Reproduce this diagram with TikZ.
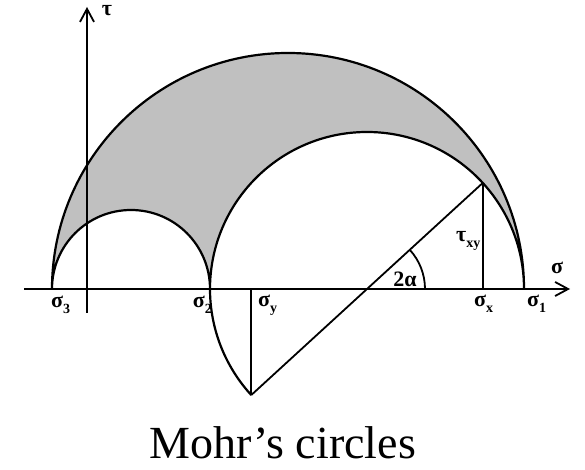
\documentclass[tikz,border=0pt]{standalone}
\usepackage{fontspec}
\setmainfont{Liberation Serif}
\usepackage{tikz}
\usetikzlibrary{arrows.meta,calc}
\definecolor{mohrgray}{HTML}{C0C0C0}
\newcommand\sigl[1]{σ\raisebox{-6pt}{\fontsize{14}{14}\selectfont#1}}

\begin{document}
\begin{tikzpicture}[x=1pt,y=1pt,line width=2.2pt,
    axis/.style={-{Straight Barb[length=13pt,width=14pt,line width=1.8pt]}},
    lbl/.style={font=\bfseries\fontsize{22}{22}\selectfont, inner sep=0pt}]
    \useasboundingbox (0,0) rectangle (585,470);
    \coordinate (s3) at (52,181);
    \coordinate (s2) at (210,181);
    \coordinate (s1) at (524,181);
    \coordinate (c) at (367,181);
    \coordinate (top) at ($(c)+(42.5:157)$);
    \coordinate (bot) at ($(c)+(222.5:157)$);
    \coordinate (sx) at (top |- c);
    \coordinate (sy) at (bot |- c);
    \fill[mohrgray] (s3) arc[start angle=180,end angle=0,radius=236] arc[start angle=0,end angle=180,radius=157] arc[start angle=0,end angle=180,radius=79] -- cycle;
    \draw[axis] (24,181) coordinate (xl) -- (570,181) coordinate (xr);
    \draw[axis] (87,157) coordinate (yb) -- (87,463) coordinate (yt);
    \draw (s3) arc[start angle=180,end angle=0,radius=236] arc[start angle=0,end angle=180,radius=157] arc[start angle=0,end angle=180,radius=79];
    \draw (s2) arc[start angle=180,end angle=222.5,radius=157];
    \draw[line width=1.8pt] (bot) -- (top);
    \draw[line width=1.8pt] (bot) -- (sy);
    \draw[line width=1.8pt] (top) -- (sx);
    \draw[line width=1.8pt] ($(c)+(58,0)$) arc[start angle=0,end angle=42.5,radius=58];
    \node[lbl] (tau) at (107,459) {τ};
    \node[lbl] (sig) at (557,202) {σ};
    \node[lbl, anchor=north west] (l3) at (50,175) {\sigl{3}};
    \node[lbl, anchor=north east] (l2) at (213,175) {\sigl{2}};
    \node[lbl, anchor=north west] (ly) at (257,176) {\sigl{y}};
    \node[lbl, anchor=north west] (lx) at (473,176) {\sigl{x}};
    \node[lbl, anchor=north west] (l1) at (526,176) {\sigl{1}};
    \node[lbl] (alpha) at (405,191) {2α};
    \node[lbl, anchor=west] (lt) at (455,229) {τ\raisebox{-6pt}{\fontsize{14}{14}\selectfont xy}};
    \node[anchor=base, font=\fontsize{46}{46}\selectfont, inner sep=0pt] (title) at (283,11) {Mohr’s circles};
\end{tikzpicture}
\end{document}
